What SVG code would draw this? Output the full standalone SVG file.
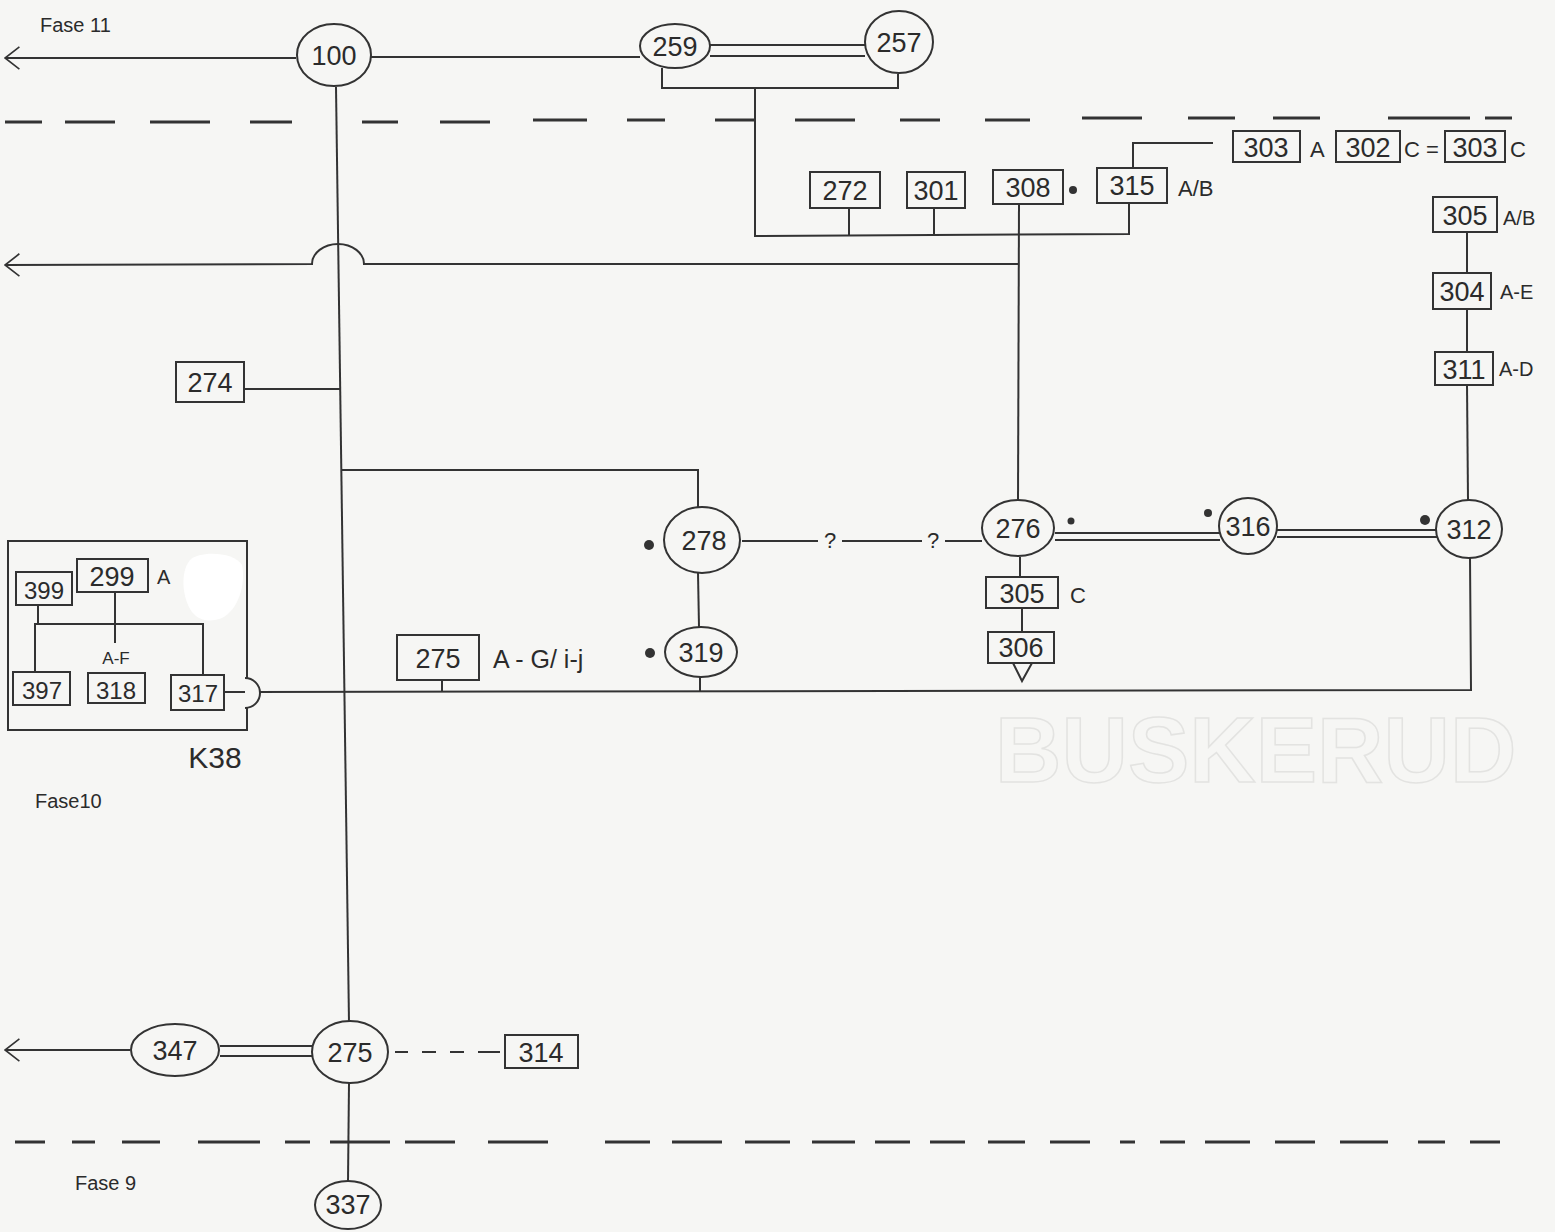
<svg xmlns="http://www.w3.org/2000/svg" width="1555" height="1232" viewBox="0 0 1555 1232">
<defs>
<style>
.bg{fill:#f6f6f4}
.n ellipse{fill:none;stroke:#333;stroke-width:2}
.n rect{fill:none;stroke:#333;stroke-width:2}
.n text,.t{font-family:"Liberation Sans",Arial,sans-serif;fill:#2b2b2b;text-anchor:middle}
.num{font-size:27px}
.lbl{font-size:22px;text-anchor:start!important}
.c line,.c path,.c polyline{fill:none;stroke:#333;stroke-width:2}
.dash{stroke:#333;stroke-width:3;fill:none}
.dot{fill:#333}
.wm{font-family:"Liberation Sans",Arial,sans-serif;font-size:92px;font-weight:bold;fill:none;stroke:#e3e3e1;stroke-width:1.5}
</style>
<marker id="chev" viewBox="0 0 20 30" refX="19" refY="15" markerWidth="16" markerHeight="26" markerUnits="userSpaceOnUse" orient="auto">
<path d="M1,1 L19,15 L1,29" fill="none" stroke="#333" stroke-width="2"/>
</marker>
</defs>
<rect class="bg" x="0" y="0" width="1555" height="1232"/>
<text class="wm" x="995" y="782">BUSKERUD</text>

<!-- phase dashed lines -->
<path class="dash" d="M5,122 H42 M65,122 H115 M150,122 H210 M250,122 H292 M362,122 H398 M440,122 H490 M533,120 H587 M627,120 H665 M715,120 H755 M795,120 H855 M900,120 H940 M985,120 H1030 M1082,118 H1142 M1188,118 H1235 M1273,118 H1320 M1388,118 H1470 M1485,118 H1512"/>
<path class="dash" d="M15,1142 H45 M72,1142 H95 M122,1142 H160 M198,1142 H260 M285,1142 H310 M330,1142 H390 M405,1142 H455 M488,1142 H548 M605,1142 H650 M672,1142 H722 M745,1142 H790 M812,1142 H855 M875,1142 H910 M930,1142 H965 M988,1142 H1025 M1050,1142 H1090 M1120,1142 H1135 M1160,1142 H1185 M1205,1142 H1250 M1275,1142 H1315 M1340,1142 H1388 M1418,1142 H1445 M1470,1142 H1500"/>

<text class="t" x="40" y="32" style="font-size:20px;text-anchor:start">Fase 11</text>
<text class="t" x="35" y="808" style="font-size:20px;text-anchor:start">Fase10</text>
<text class="t" x="75" y="1190" style="font-size:20px;text-anchor:start">Fase 9</text>

<g id="connectors" class="c">
<line x1="296" y1="58" x2="5" y2="58" marker-end="url(#chev)"/>
<line x1="370" y1="57" x2="640" y2="57"/>
<line x1="710" y1="45" x2="865" y2="45"/>
<line x1="710" y1="56" x2="865" y2="56"/>
<polyline points="662,68 662,88 898,88 898,74"/>
<polyline points="755,88 755,236 1129,234 1129,203"/>
<line x1="849" y1="208" x2="849" y2="236"/>
<line x1="934" y1="208" x2="934" y2="236"/>
<polyline points="1133,167 1133,143 1213,143"/>
<path d="M1018,264 H364 A26,20 0 0 0 312,264 L5,265" marker-end="url(#chev)"/>
<line x1="336" y1="87" x2="349" y2="1022"/>
<line x1="1019" y1="203" x2="1018" y2="500"/>
<line x1="244" y1="389" x2="340" y2="389"/>
<polyline points="342,470 698,470 698,507"/>
<line x1="698" y1="573" x2="699" y2="627"/>
<line x1="700" y1="677" x2="700" y2="692"/>
<path d="M742,541 H818 M842,541 H922 M945,541 H982"/>
<line x1="1055" y1="533" x2="1220" y2="533"/>
<line x1="1055" y1="540" x2="1220" y2="540"/>
<line x1="1277" y1="530" x2="1437" y2="530"/>
<line x1="1277" y1="537" x2="1437" y2="537"/>
<line x1="1467" y1="232" x2="1467" y2="273"/>
<line x1="1467" y1="309" x2="1467" y2="352"/>
<line x1="1467" y1="385" x2="1468" y2="500"/>
<polyline points="1470,558 1471,690 254,692"/>
<line x1="224" y1="692" x2="247" y2="692"/>
<line x1="442" y1="680" x2="442" y2="692"/>
<line x1="1020" y1="557" x2="1020" y2="577"/>
<line x1="1022" y1="608" x2="1022" y2="632"/>
<polyline points="1013,663 1022,681 1032,663"/>
<line x1="130" y1="1050" x2="5" y2="1050" marker-end="url(#chev)"/>
<line x1="220" y1="1046" x2="312" y2="1046"/>
<line x1="220" y1="1056" x2="312" y2="1056"/>
<path d="M395,1052 H408 M422,1052 H436 M450,1052 H464 M478,1052 H500"/>
<line x1="349" y1="1083" x2="348" y2="1181"/>
<!-- K38 internal -->
<line x1="38" y1="605" x2="38" y2="624"/>
<polyline points="35,672 35,624 203,624 203,675"/>
<line x1="115" y1="592" x2="115" y2="643"/>
</g>

<g id="dots">
<circle class="dot" cx="1073" cy="190" r="4"/>
<circle class="dot" cx="649" cy="545" r="5"/>
<circle class="dot" cx="650" cy="653" r="5"/>
<circle class="dot" cx="1071" cy="521" r="3.5"/>
<circle class="dot" cx="1208" cy="513" r="4"/>
<circle class="dot" cx="1425" cy="520" r="5"/>
</g>

<g id="n100" class="n"><ellipse cx="334" cy="55" rx="37" ry="31"/><text class="num" x="334" y="65">100</text></g>
<g id="n259" class="n"><ellipse cx="675" cy="46" rx="35" ry="22"/><text class="num" x="675" y="56">259</text></g>
<g id="n257" class="n"><ellipse cx="899" cy="42" rx="34" ry="31"/><text class="num" x="899" y="52">257</text></g>

<g id="b272" class="n"><rect x="810" y="172" width="70" height="36"/><text class="num" x="845" y="200">272</text></g>
<g id="b301" class="n"><rect x="907" y="172" width="58" height="36"/><text class="num" x="936" y="200">301</text></g>
<g id="b308" class="n"><rect x="993" y="170" width="70" height="34"/><text class="num" x="1028" y="197">308</text></g>
<g id="b315" class="n"><rect x="1097" y="168" width="70" height="35"/><text class="num" x="1132" y="195">315</text><text class="lbl" x="1178" y="196">A/B</text></g>
<g id="b303a" class="n"><rect x="1233" y="131" width="67" height="31"/><text class="num" x="1266" y="157">303</text><text class="lbl" x="1310" y="157">A</text></g>
<g id="b302" class="n"><rect x="1336" y="131" width="64" height="31"/><text class="num" x="1368" y="157">302</text><text class="lbl" x="1404" y="157">C =</text></g>
<g id="b303c" class="n"><rect x="1445" y="131" width="60" height="31"/><text class="num" x="1475" y="157">303</text><text class="lbl" x="1510" y="157">C</text></g>

<g id="b305ab" class="n"><rect x="1433" y="197" width="64" height="35"/><text class="num" x="1465" y="225">305</text><text class="lbl" x="1503" y="225" style="font-size:20px">A/B</text></g>
<g id="b304" class="n"><rect x="1433" y="273" width="58" height="36"/><text class="num" x="1462" y="301">304</text><text class="lbl" x="1500" y="299" style="font-size:20px">A-E</text></g>
<g id="b311" class="n"><rect x="1435" y="352" width="58" height="33"/><text class="num" x="1464" y="379">311</text><text class="lbl" x="1499" y="376" style="font-size:20px">A-D</text></g>

<g id="b274" class="n"><rect x="176" y="362" width="68" height="40"/><text class="num" x="210" y="392">274</text></g>

<g id="n278" class="n"><ellipse cx="702" cy="540" rx="38" ry="33"/><text class="num" x="704" y="550">278</text></g>
<g id="n319" class="n"><ellipse cx="701" cy="652" rx="36" ry="25"/><text class="num" x="701" y="662">319</text></g>
<g id="n276" class="n"><ellipse cx="1018" cy="528" rx="36" ry="28"/><text class="num" x="1018" y="538">276</text></g>
<g id="n316" class="n"><ellipse cx="1248" cy="526" rx="29" ry="28"/><text class="num" x="1248" y="536">316</text></g>
<g id="n312" class="n"><ellipse cx="1469" cy="529" rx="33" ry="29"/><text class="num" x="1469" y="539">312</text></g>

<text class="t" x="830" y="548" style="font-size:22px">?</text>
<text class="t" x="933" y="548" style="font-size:22px">?</text>

<g id="b305c" class="n"><rect x="986" y="577" width="72" height="31"/><text class="num" x="1022" y="603">305</text><text class="lbl" x="1070" y="603">C</text></g>
<g id="b306" class="n"><rect x="988" y="632" width="66" height="31"/><text class="num" x="1021" y="657">306</text></g>

<g id="b275ag" class="n"><rect x="397" y="635" width="82" height="45"/><text class="num" x="438" y="668">275</text><text class="lbl" x="493" y="668" style="font-size:25px">A - G/ i-j</text></g>

<g id="k38" class="n">
<rect x="8" y="541" width="239" height="189"/>
<path d="M245,678 A15,15 0 0 1 245,708" fill="#f6f6f4" stroke="#333" stroke-width="2"/>
<path d="M190,560 C200,550 235,552 242,565 C246,585 238,610 222,618 C212,622 200,622 192,612 C182,598 180,572 190,560 Z" fill="#ffffff" stroke="none"/>
<text class="t" x="215" y="768" style="font-size:30px">K38</text>
</g>
<g id="b399" class="n"><rect x="16" y="572" width="56" height="33"/><text class="num" x="44" y="599" style="font-size:24px">399</text></g>
<g id="b299" class="n"><rect x="77" y="559" width="71" height="33"/><text class="num" x="112" y="586">299</text><text class="lbl" x="157" y="584" style="font-size:20px">A</text></g>
<text class="t" x="116" y="664" style="font-size:17px">A-F</text>
<g id="b397" class="n"><rect x="13" y="672" width="57" height="33"/><text class="num" x="42" y="699" style="font-size:24px">397</text></g>
<g id="b318" class="n"><rect x="88" y="673" width="57" height="30"/><text class="num" x="116" y="699" style="font-size:24px">318</text></g>
<g id="b317" class="n"><rect x="171" y="675" width="53" height="35"/><text class="num" x="198" y="702" style="font-size:24px">317</text></g>

<g id="n347" class="n"><ellipse cx="175" cy="1050" rx="44" ry="26"/><text class="num" x="175" y="1060">347</text></g>
<g id="n275" class="n"><ellipse cx="350" cy="1052" rx="38" ry="31"/><text class="num" x="350" y="1062">275</text></g>
<g id="b314" class="n"><rect x="505" y="1035" width="73" height="33"/><text class="num" x="541" y="1062">314</text></g>
<g id="n337" class="n"><ellipse cx="348" cy="1205" rx="33" ry="24"/><text class="num" x="348" y="1214">337</text></g>
</svg>
